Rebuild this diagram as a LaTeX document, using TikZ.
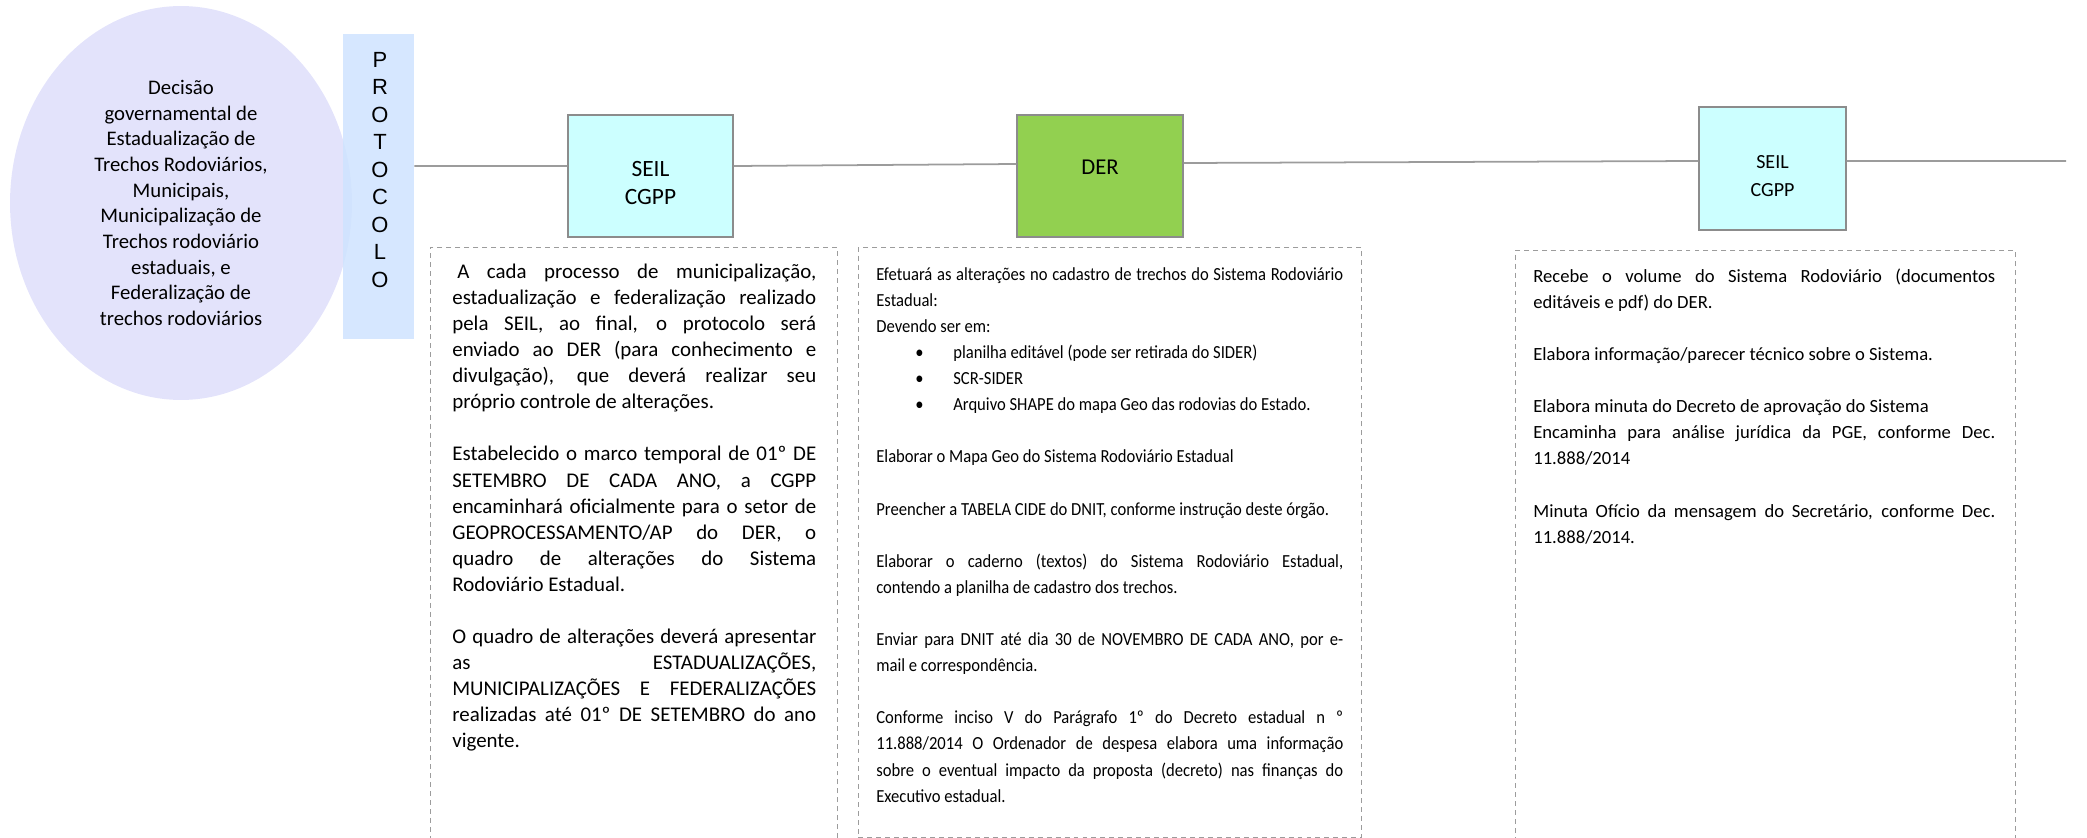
\documentclass[tikz,border=0pt]{standalone}
\usepackage{fontspec}
\setmainfont{Carlito}
\newfontfamily\arialfont{Liberation Sans}
\newfontfamily\estreita[FakeStretch=0.9]{Carlito}
\usetikzlibrary{shapes.geometric}
\definecolor{elipse}{HTML}{E3E3FB}
\definecolor{protocolo}{HTML}{CFE3FF}
\definecolor{seil}{HTML}{CCFFFF}
\definecolor{der}{HTML}{92D050}
\definecolor{borda}{HTML}{8C8C8C}
\definecolor{linha}{HTML}{9C9C9C}
\newcommand{\pulalinha}{\par\vspace{\baselineskip}}
\newcommand{\bul}{\makebox[1.54cm][l]{\hspace*{0.78cm}\textbullet}}
\tolerance=10000
\hbadness=10000
\parindent=0pt

\begin{document}
\begin{tikzpicture}[x=0.02cm,y=-0.02cm]
		\tikzset{mynode/.style={inner sep=0pt,text=black},
			mybox/.style={mynode,draw=borda,line width=0.8pt},
			myline/.style={draw=linha,line width=1pt},
			mydashed/.style={mynode,draw=linha,line width=0.55pt,dash pattern=on 2.8pt off 2.3pt,anchor=north west,minimum width=#1},
			mytext/.style={mynode,anchor=north west,align=justify,text width=#1}}
		\useasboundingbox (0,0) rectangle (2087,838);
		\clip (0,0) rectangle (2087,838);
		%Begin plot
		\node[mynode,ellipse,fill=elipse,minimum width=6.84cm,minimum height=7.88cm,align=center,font=\fontsize{11.8}{14.6}\selectfont] (decisao) at (181,203) {Decisão\\governamental de\\Estadualização de\\Trechos Rodoviários,\\Municipais,\\Municipalização de\\Trechos rodoviário\\estaduais, e\\Federalização de\\trechos rodoviários};
		\node[mynode,fill=protocolo,fill opacity=0.85,minimum width=1.42cm,minimum height=6.1cm] (proto) at (378.5,186.5) {};
		\node[mynode,anchor=north,align=center,font=\arialfont\fontsize{12.5}{15.65}\selectfont] (protolbl) at (380,51.7) {P\\R\\O\\T\\O\\C\\O\\L\\O};
		%Boxes
		\node[mybox,fill=seil,minimum width=3.3cm,minimum height=2.44cm] (seil1) at (650.5,176) {};
		\node[mybox,fill=der,minimum width=3.32cm,minimum height=2.44cm] (der) at (1100,176) {};
		\node[mybox,fill=seil,minimum width=2.94cm,minimum height=2.46cm] (seil2) at (1772.5,168.5) {};
		\node[mynode,align=center,font=\fontsize{13.3}{15.9}\selectfont] (seil1txt) at ([yshift=-0.146cm]seil1.center) {SEIL\\CGPP};
		\node[mynode,font=\fontsize{12.9}{15.5}\selectfont] (dertxt) at ([yshift=0.18cm]der.center) {DER};
		\node[mynode,align=center,font=\fontsize{11.4}{15.9}\selectfont] (seil2txt) at ([yshift=-0.146cm]seil2.center) {SEIL\\CGPP};
		\coordinate (fim) at (2066,161);
		\draw[myline] ([yshift=0.41cm]proto.east) -- ([yshift=0.2cm]seil1.west);
		\draw[myline] ([yshift=0.2cm]seil1.east) -- ([yshift=0.24cm]der.west);
		\draw[myline] ([yshift=0.26cm]der.east) -- ([yshift=0.15cm]seil2.west);
		\draw[myline] ([yshift=0.15cm]seil2.east) -- (fim);
		%Dashed frames
		\node[mydashed=8.14cm,minimum height=12.1cm] (quadroA) at (430,247) {};
		\node[mydashed=10.06cm,minimum height=11.8cm] (quadroB) at (858,247) {};
		\node[mydashed=10cm,minimum height=12cm] (quadroC) at (1515,250) {};
		\node[mytext=7.28cm,font=\fontsize{11.9}{14.85}\selectfont] (textoA) at (452,259.7) {\strut\hspace*{0.1cm}A cada processo de municipalização,\linebreak estadualização e federalização realizado\linebreak pela SEIL, ao final, o protocolo será\linebreak enviado ao DER (para conhecimento e\linebreak divulgação), que deverá realizar seu\linebreak próprio controle de alterações.\pulalinha
			Estabelecido o marco temporal de 01º DE\linebreak SETEMBRO DE CADA ANO, a CGPP\linebreak encaminhará oficialmente para o setor de\linebreak GEOPROCESSAMENTO/AP do DER, o\linebreak quadro de alterações do Sistema\linebreak Rodoviário Estadual.\pulalinha
			O quadro de alterações deverá apresentar\linebreak as ESTADUALIZAÇÕES,\linebreak MUNICIPALIZAÇÕES E FEDERALIZAÇÕES\linebreak realizadas até 01º DE SETEMBRO do ano\linebreak vigente.};
		\node[mytext=9.34cm,font=\estreita\fontsize{10.5}{14.85}\selectfont] (textoB) at (876,261.7) {\strut Efetuará as alterações no cadastro de trechos do Sistema Rodoviário\linebreak Estadual:\\
			Devendo ser em:\\
			\bul planilha editável (pode ser retirada do SIDER)\\
			\bul SCR-SIDER\\
			\bul Arquivo SHAPE do mapa Geo das rodovias do Estado.\pulalinha
			Elaborar o Mapa Geo do Sistema Rodoviário Estadual\pulalinha
			Preencher a TABELA CIDE do DNIT, conforme instrução deste órgão.\pulalinha
			Elaborar o caderno (textos) do Sistema Rodoviário Estadual,\linebreak contendo a planilha de cadastro dos trechos.\pulalinha
			Enviar para DNIT até dia 30 de NOVEMBRO DE CADA ANO, por e-\linebreak mail e correspondência.\pulalinha
			Conforme inciso V do Parágrafo 1º do Decreto estadual n º\linebreak 11.888/2014 O Ordenador de despesa elabora uma informação\linebreak sobre o eventual impacto da proposta (decreto) nas finanças do\linebreak Executivo estadual.};
		\node[mytext=9.24cm,font=\fontsize{10.6}{14.85}\selectfont] (textoC) at (1533,263.7) {\strut Recebe o volume do Sistema Rodoviário (documentos\linebreak editáveis e pdf) do DER.\pulalinha
			Elabora informação/parecer técnico sobre o Sistema.\pulalinha
			Elabora minuta do Decreto de aprovação do Sistema\\
			Encaminha para análise jurídica da PGE, conforme Dec.\linebreak 11.888/2014\pulalinha
			Minuta Ofício da mensagem do Secretário, conforme Dec.\linebreak 11.888/2014.};
	\end{tikzpicture}
\end{document}
